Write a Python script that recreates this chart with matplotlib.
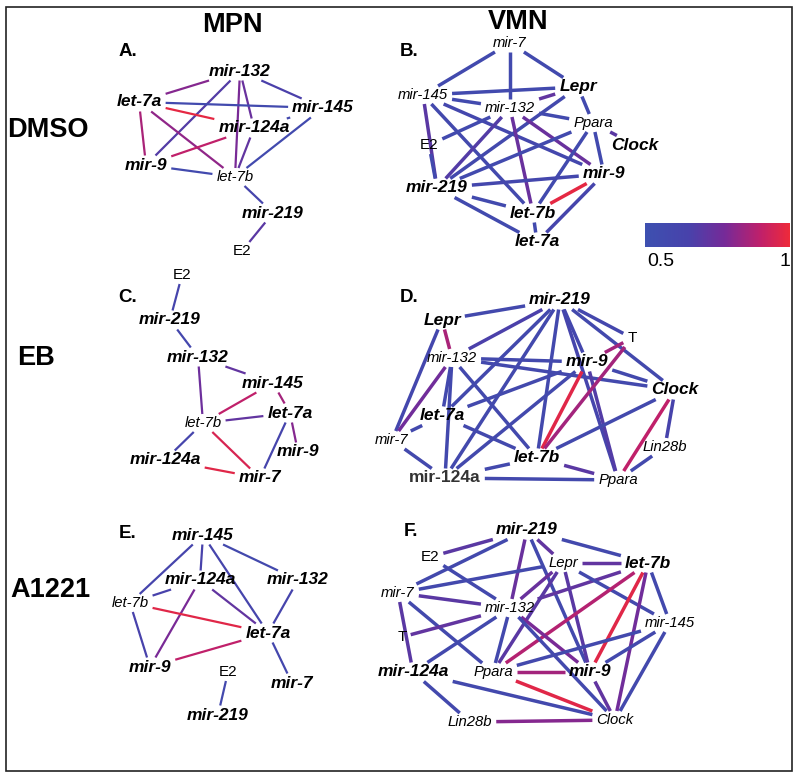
import numpy as np
import matplotlib
matplotlib.use('Agg')
import matplotlib.pyplot as plt
from matplotlib.colors import LinearSegmentedColormap, Normalize
from matplotlib.cm import ScalarMappable

plt.rcParams['font.family'] = ['Liberation Sans', 'DejaVu Sans']

# ---- data: edges (node a, node b, correlation) per panel ----
edges_A = [('let-7a', 'mir-132', 0.80), ('mir-132', 'mir-9', 0.68), ('mir-132', 'let-7b', 0.78),
           ('mir-132', 'mir-124a', 0.74), ('mir-132', 'mir-145', 0.66), ('let-7a', 'mir-145', 0.57),
           ('let-7a', 'mir-124a', 0.98), ('let-7a', 'mir-9', 0.86), ('let-7a', 'let-7b', 0.82),
           ('mir-9', 'mir-124a', 0.90), ('mir-124a', 'mir-145', 0.58), ('mir-124a', 'let-7b', 0.72),
           ('mir-9', 'let-7b', 0.57), ('mir-145', 'let-7b', 0.57), ('let-7b', 'mir-219', 0.62),
           ('mir-219', 'E2', 0.70)]
edges_B = [('mir-7', 'mir-145', 0.57), ('mir-7', 'mir-132', 0.57), ('mir-7', 'Lepr', 0.57),
           ('mir-145', 'Lepr', 0.57), ('mir-145', 'mir-132', 0.57), ('mir-145', 'mir-219', 0.70),
           ('mir-145', 'let-7b', 0.58), ('mir-145', 'mir-9', 0.60), ('Lepr', 'mir-132', 0.72),
           ('Lepr', 'Ppara', 0.57), ('Lepr', 'mir-219', 0.58), ('mir-132', 'Ppara', 0.57),
           ('mir-132', 'mir-219', 0.68), ('mir-132', 'let-7b', 0.74), ('mir-132', 'mir-9', 0.74),
           ('E2', 'mir-132', 0.57), ('E2', 'mir-219', 0.57), ('Ppara', 'mir-219', 0.57),
           ('Ppara', 'let-7b', 0.57), ('Ppara', 'mir-9', 0.57), ('Ppara', 'Clock', 0.70),
           ('mir-219', 'mir-9', 0.60), ('mir-219', 'let-7b', 0.57), ('mir-219', 'let-7a', 0.57),
           ('let-7b', 'mir-9', 0.98), ('let-7b', 'let-7a', 0.57), ('mir-9', 'let-7a', 0.62)]
edges_C = [('E2', 'mir-219', 0.62), ('mir-219', 'mir-132', 0.60), ('mir-132', 'mir-145', 0.72),
           ('mir-132', 'let-7b', 0.75), ('mir-145', 'let-7b', 0.90), ('mir-145', 'let-7a', 0.85),
           ('let-7b', 'let-7a', 0.72), ('let-7a', 'mir-9', 0.80), ('let-7a', 'mir-7', 0.62),
           ('let-7b', 'mir-124a', 0.62), ('let-7b', 'mir-7', 0.95), ('mir-124a', 'mir-7', 0.97)]
edges_D = [('mir-219', 'Lepr', 0.58), ('mir-219', 'mir-132', 0.66), ('mir-219', 'let-7a', 0.58),
           ('mir-219', 'mir-124a', 0.58), ('mir-219', 'let-7b', 0.58), ('mir-219', 'Ppara', 0.62),
           ('mir-219', 'mir-9', 0.60), ('mir-219', 'T', 0.60), ('mir-219', 'Clock', 0.58),
           ('Lepr', 'mir-132', 0.86), ('Lepr', 'mir-7', 0.60), ('mir-132', 'mir-9', 0.58),
           ('mir-132', 'Clock', 0.58), ('mir-132', 'mir-7', 0.76), ('mir-132', 'let-7a', 0.58),
           ('mir-132', 'mir-124a', 0.58), ('mir-132', 'let-7b', 0.58), ('mir-9', 'let-7a', 0.58),
           ('mir-9', 'mir-124a', 0.58), ('mir-9', 'let-7b', 0.97), ('mir-9', 'Ppara', 0.68),
           ('mir-9', 'Clock', 0.58), ('T', 'mir-9', 0.85), ('T', 'let-7b', 0.85),
           ('let-7a', 'let-7b', 0.58), ('let-7a', 'mir-7', 0.58), ('mir-7', 'mir-124a', 0.58),
           ('mir-124a', 'let-7b', 0.58), ('mir-124a', 'Ppara', 0.58), ('let-7b', 'Ppara', 0.70),
           ('let-7b', 'Clock', 0.58), ('Clock', 'Ppara', 0.90), ('Clock', 'Lin28b', 0.64),
           ('Lin28b', 'Ppara', 0.58)]
edges_E = [('mir-145', 'let-7b', 0.62), ('mir-145', 'mir-124a', 0.65), ('mir-145', 'let-7a', 0.62),
           ('mir-145', 'mir-132', 0.58), ('mir-132', 'let-7a', 0.63), ('mir-124a', 'let-7b', 0.65),
           ('mir-124a', 'let-7a', 0.72), ('mir-124a', 'mir-9', 0.78), ('let-7b', 'let-7a', 0.97),
           ('let-7b', 'mir-9', 0.65), ('mir-9', 'let-7a', 0.90), ('let-7a', 'mir-7', 0.60),
           ('E2', 'mir-219', 0.58)]
edges_F = [('mir-219', 'E2', 0.70), ('mir-219', 'mir-7', 0.58), ('mir-219', 'mir-132', 0.74),
           ('mir-219', 'Lepr', 0.72), ('mir-219', 'let-7b', 0.58), ('mir-219', 'mir-9', 0.58),
           ('E2', 'mir-132', 0.58), ('mir-7', 'Lepr', 0.58), ('mir-7', 'mir-132', 0.70),
           ('mir-7', 'mir-124a', 0.70), ('mir-7', 'Ppara', 0.58), ('Lepr', 'let-7b', 0.72),
           ('Lepr', 'mir-132', 0.74), ('let-7b', 'mir-132', 0.72), ('Lepr', 'Ppara', 0.70),
           ('Lepr', 'mir-9', 0.70), ('Lepr', 'mir-145', 0.58), ('let-7b', 'Ppara', 0.88),
           ('let-7b', 'mir-9', 0.97), ('let-7b', 'Clock', 0.76), ('let-7b', 'mir-145', 0.58),
           ('T', 'mir-132', 0.72), ('mir-132', 'mir-124a', 0.58), ('mir-132', 'Ppara', 0.58),
           ('mir-132', 'mir-9', 0.78), ('mir-132', 'Clock', 0.58), ('mir-145', 'Ppara', 0.58),
           ('mir-145', 'mir-9', 0.58), ('mir-145', 'Clock', 0.58), ('Ppara', 'mir-9', 0.85),
           ('Ppara', 'Clock', 0.97), ('mir-9', 'Clock', 0.72), ('mir-124a', 'Lin28b', 0.58),
           ('mir-124a', 'Clock', 0.58), ('Lin28b', 'Clock', 0.80)]

# highlighted (bold) nodes per panel
bold_A = ['mir-132', 'let-7a', 'mir-145', 'mir-124a', 'mir-9', 'mir-219']
bold_B = ['Lepr', 'Clock', 'mir-219', 'mir-9', 'let-7b', 'let-7a']
bold_C = ['mir-219', 'mir-132', 'mir-145', 'let-7a', 'mir-9', 'mir-124a', 'mir-7']
bold_D = ['mir-219', 'Lepr', 'mir-9', 'Clock', 'let-7a', 'let-7b', 'mir-124a']
bold_E = ['mir-145', 'mir-124a', 'mir-132', 'let-7a', 'mir-9', 'mir-7', 'mir-219']
bold_F = ['mir-219', 'let-7b', 'mir-124a', 'mir-9']
hormones = ['E2', 'T']

# ---- layout (figure pixel coordinates of node labels) ----
layout_A = {'mir-132': (240, 71), 'let-7a': (139, 102), 'mir-145': (323, 108), 'mir-124a': (254, 128),
            'mir-9': (146, 165), 'let-7b': (235, 177), 'mir-219': (273, 213), 'E2': (242, 251)}
layout_B = {'mir-7': (510, 43), 'Lepr': (578, 87), 'mir-145': (423, 95), 'mir-132': (510, 108),
            'Ppara': (593, 123), 'Clock': (635, 145), 'E2': (429, 145), 'mir-219': (437, 188),
            'mir-9': (604, 174), 'let-7b': (533, 213), 'let-7a': (537, 242)}
layout_C = {'E2': (182, 275), 'mir-219': (170, 320), 'mir-132': (198, 357), 'mir-145': (273, 383),
            'let-7a': (290, 413), 'let-7b': (203, 423), 'mir-9': (298, 452), 'mir-124a': (165, 460),
            'mir-7': (260, 478)}
layout_D = {'mir-219': (560, 300), 'Lepr': (442, 320), 'T': (632, 338), 'mir-132': (452, 358),
            'mir-9': (587, 362), 'Clock': (675, 390), 'let-7a': (442, 416), 'mir-7': (392, 440),
            'Lin28b': (665, 447), 'let-7b': (537, 458), 'mir-124a': (445, 478), 'Ppara': (618, 480)}
layout_E = {'mir-145': (203, 535), 'mir-124a': (200, 580), 'mir-132': (298, 580), 'let-7b': (130, 603),
            'let-7a': (268, 633), 'mir-9': (150, 667), 'E2': (228, 672), 'mir-7': (292, 683),
            'mir-219': (218, 715)}
layout_F = {'mir-219': (527, 530), 'E2': (430, 557), 'Lepr': (563, 563), 'let-7b': (648, 563),
            'mir-7': (398, 593), 'mir-132': (510, 608), 'mir-145': (670, 623), 'T': (402, 637),
            'mir-124a': (413, 672), 'Ppara': (493, 672), 'mir-9': (590, 672), 'Lin28b': (470, 722),
            'Clock': (615, 720)}

cmap = LinearSegmentedColormap.from_list(
    'corr', [(0.0, '#3d50b0'), (0.3, '#4842ab'), (0.55, '#762a98'), (0.8, '#c0206a'), (1.0, '#ee2a3a')])
norm = Normalize(0.5, 1.0)

fig = plt.figure(figsize=(8, 7.8), dpi=100)
ax = fig.add_axes([0, 0, 1, 1])
ax.set_xlim(0, 800)
ax.set_ylim(780, 0)
ax.axis('off')
renderer = fig.canvas.get_renderer()


def clip(c, hw, hh, d):
    dx, dy = d
    t = min(hw / abs(dx) if dx else np.inf, hh / abs(dy) if dy else np.inf)
    return c[0] + t * dx, c[1] + t * dy


def draw_panel(layout, edges, bold, lw, big=False):
    boxes = {}
    for name, (x, y) in layout.items():
        is_bold = name in bold
        if name in hormones or (big and name == 'mir-124a'):
            style = 'normal'
        else:
            style = 'italic'
        if is_bold:
            size = 12.5
        else:
            size = 11 if name in hormones else 10.7
        color = '#333333' if (big and name == 'mir-124a') else 'black'
        t = ax.text(x, y, name, ha='center', va='center', fontsize=size,
                    fontweight='bold' if is_bold else 'normal', fontstyle=style, color=color, zorder=3)
        bb = t.get_window_extent(renderer).transformed(ax.transData.inverted())
        cx, cy = (bb.x0 + bb.x1) / 2, (bb.y0 + bb.y1) / 2
        boxes[name] = ((cx, cy), abs(bb.x1 - bb.x0) / 2 + 4, abs(bb.y1 - bb.y0) / 2 + 2)
    for a, b, w in edges:
        (ca, hwa, hha), (cb, hwb, hhb) = boxes[a], boxes[b]
        d = (cb[0] - ca[0], cb[1] - ca[1])
        p0 = clip(ca, hwa, hha, d)
        p1 = clip(cb, hwb, hhb, (-d[0], -d[1]))
        ax.plot([p0[0], p1[0]], [p0[1], p1[1]], color=cmap(norm(w)), lw=lw,
                solid_capstyle='butt', zorder=2)


draw_panel(layout_A, edges_A, bold_A, 1.6)
draw_panel(layout_B, edges_B, bold_B, 2.5)
draw_panel(layout_C, edges_C, bold_C, 1.6)
draw_panel(layout_D, edges_D, bold_D, 2.5, big=True)
draw_panel(layout_E, edges_E, bold_E, 1.6)
draw_panel(layout_F, edges_F, bold_F, 2.5)

# headers and panel letters
for s, (x, y) in {'MPN': (232, 25), 'VMN': (518, 22), 'DMSO': (48, 130), 'EB': (36, 358),
                  'A1221': (50, 590)}.items():
    ax.text(x, y, s, ha='center', va='center', fontsize=19.5, fontweight='bold')
for s, (x, y) in {'A.': (128, 52), 'B.': (409, 51), 'C.': (128, 297), 'D.': (409, 297),
                  'E.': (128, 533), 'F.': (411, 532)}.items():
    ax.text(x, y, s, ha='center', va='center', fontsize=13.5, fontweight='bold')

# outer frame
ax.add_patch(plt.Rectangle((6, 7), 786, 764, fill=False, ec='#222222', lw=1.2))

# colour scale
cax = fig.add_axes([645 / 800, 1 - 247 / 780, 145 / 800, 24 / 780])
cb = fig.colorbar(ScalarMappable(norm=norm, cmap=cmap), cax=cax, orientation='horizontal')
cb.set_ticks([])
cb.outline.set_visible(False)
ax.text(661, 261, '0.5', ha='center', va='center', fontsize=14)
ax.text(785, 261, '1', ha='center', va='center', fontsize=14)

fig.savefig('out.png', dpi=100)
